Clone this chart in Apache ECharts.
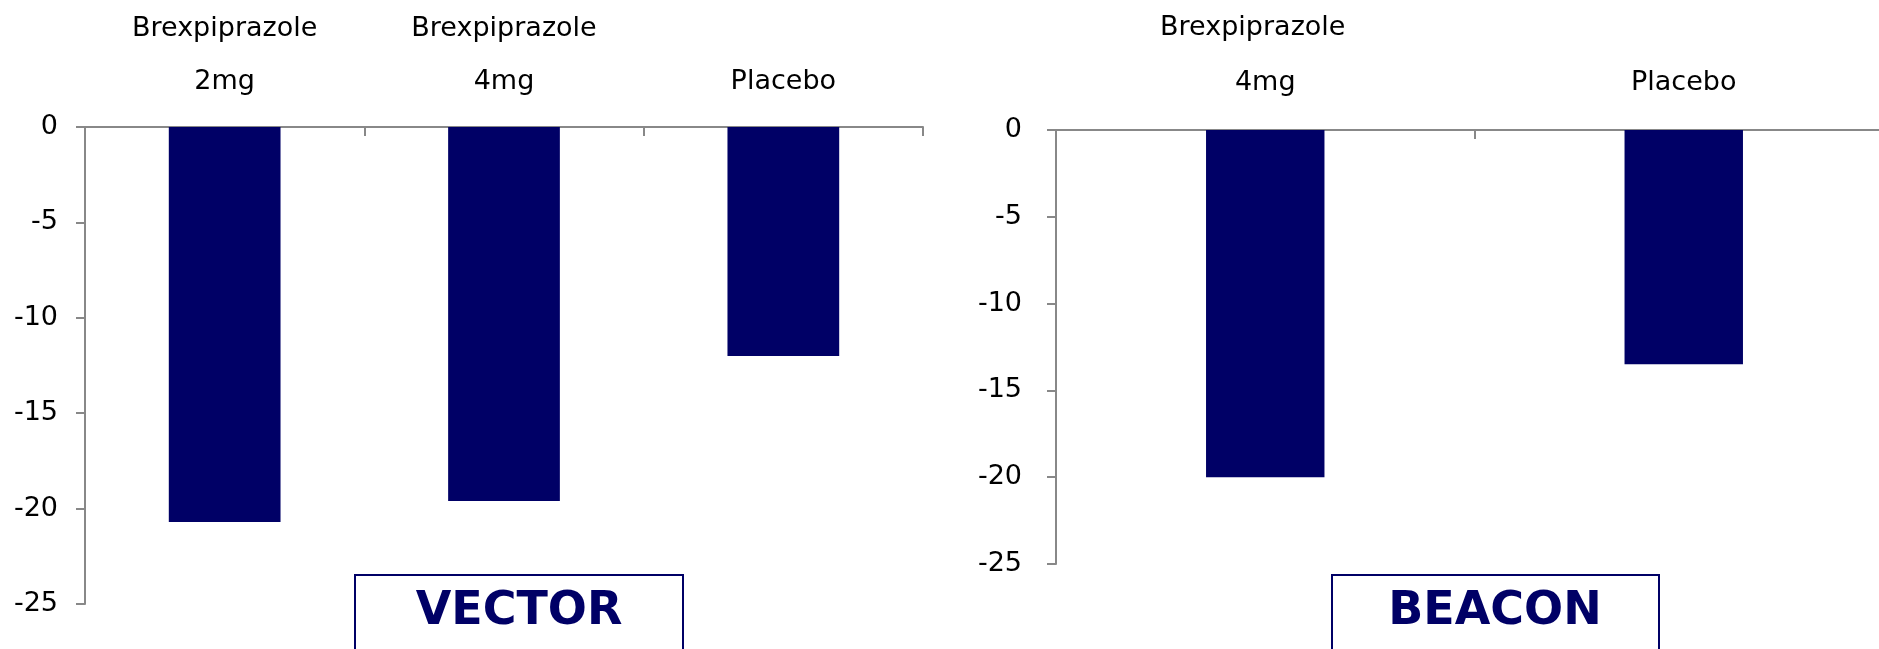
<!DOCTYPE html>
<html>
<head>
<meta charset="utf-8">
<script src="https://cdn.jsdelivr.net/npm/echarts@6/dist/echarts.min.js"></script>
<style>
  html, body { margin: 0; padding: 0; background: #ffffff; }
  #chart { width: 1879px; height: 649px; }
</style>
</head>
<body>
<div id="chart"></div>
<script>
// VECTOR study
const vectorCategories = ['Brexpiprazole\n2mg', 'Brexpiprazole\n4mg', 'Placebo'];
const vectorValues = [-20.7, -19.6, -12.0];
// BEACON study
const beaconCategories = ['Brexpiprazole\n4mg', 'Placebo'];
const beaconValues = [-20.0, -13.5];
// y-axis scale
const yMin = -25;
const yMax = 0;
const yStep = 5;
const studyNames = ['VECTOR', 'BEACON'];

const NAVY = '#000066';
const AXIS = '#888888';
const FONT = 'DejaVu Sans';

function xAxisFor(gridIndex, data, lineHeight, margin, formatter) {
  const label = {
    color: '#000000', fontFamily: FONT, fontSize: 27, lineHeight: lineHeight, margin: margin,
    interval: 0
  };
  if (formatter) {
    label.formatter = formatter;
    label.rich = { lead: { fontFamily: FONT, fontSize: 27, color: '#000000', lineHeight: lineHeight, padding: [0, 25, 0, 0] } };
  }
  return {
    type: 'category',
    gridIndex: gridIndex,
    position: 'top',
    data: data,
    axisLine: { show: true, onZero: false, lineStyle: { color: AXIS, width: 2 } },
    axisTick: { show: true, inside: true, length: 9, lineStyle: { color: AXIS, width: 2 } },
    axisLabel: label,
    splitLine: { show: false }
  };
}
function yAxisFor(gridIndex, margin) {
  return {
    type: 'value',
    gridIndex: gridIndex,
    min: yMin, max: yMax, interval: yStep,
    axisLine: { show: true, lineStyle: { color: AXIS, width: 2 } },
    axisTick: { show: true, length: 9, lineStyle: { color: AXIS, width: 2 } },
    axisLabel: { color: '#000000', fontFamily: FONT, fontSize: 27, margin: margin },
    splitLine: { show: false }
  };
}

const chart = echarts.init(document.getElementById('chart'), null, { renderer: 'canvas' });
chart.setOption({
  animation: false,
  backgroundColor: '#ffffff',
  grid: [
    { left: 85, top: 127, width: 838, height: 477, outerBoundsMode: 'none', containLabel: false },
    { left: 1056, top: 130, width: 837, height: 434, outerBoundsMode: 'none', containLabel: false }
  ],
  xAxis: [
    xAxisFor(0, vectorCategories, 53, 19),
    xAxisFor(1, beaconCategories, 55, 20, function (v) {
      return v.replace(/^Brexpiprazole\n/, '{lead|Brexpiprazole}\n');
    })
  ],
  yAxis: [yAxisFor(0, 27), yAxisFor(1, 34)],
  series: [
    {
      type: 'bar', xAxisIndex: 0, yAxisIndex: 0, data: vectorValues,
      barWidth: '40%', itemStyle: { color: NAVY }
    },
    {
      type: 'bar', xAxisIndex: 1, yAxisIndex: 1, data: beaconValues,
      barWidth: '28.3%', itemStyle: { color: NAVY }
    }
  ],
  graphic: [
    {
      type: 'rect', shape: { x: 355, y: 575, width: 328, height: 110 },
      style: { fill: 'transparent', stroke: NAVY, lineWidth: 2 }
    },
    {
      type: 'text', x: 519, y: 612,
      style: { text: studyNames[0], fill: NAVY, font: 'bold 46px "DejaVu Sans"', align: 'center', verticalAlign: 'middle' }
    },
    {
      type: 'rect', shape: { x: 1332, y: 575, width: 327, height: 110 },
      style: { fill: 'transparent', stroke: NAVY, lineWidth: 2 }
    },
    {
      type: 'text', x: 1495, y: 612,
      style: { text: studyNames[1], fill: NAVY, font: 'bold 46px "DejaVu Sans"', align: 'center', verticalAlign: 'middle' }
    }
  ]
});
</script>
</body>
</html>
